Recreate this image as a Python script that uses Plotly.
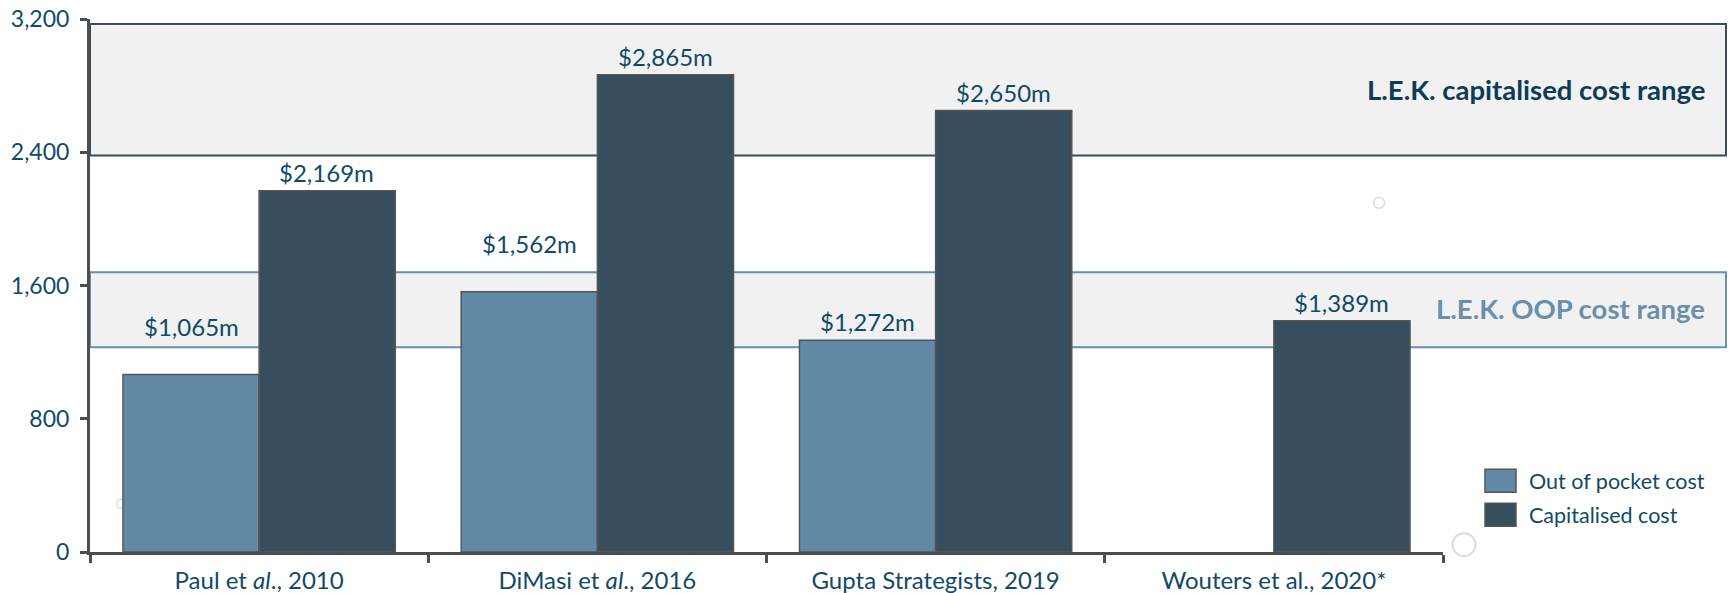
import plotly.graph_objects as go

# ---- data ----
categories = ["Paul et <i>al</i>., 2010", "DiMasi et <i>al</i>., 2016",
              "Gupta Strategists, 2019", "Wouters et al., 2020*"]
oop_cost = [1065, 1562, 1272, None]
cap_cost = [2169, 2865, 2650, 1389]
series_names = ["Out of pocket cost", "Capitalised cost"]
y_ticks = [0, 800, 1600, 2400, 3200]
cap_range = [2380, 3170]
oop_range = [1230, 1680]
band_labels = ["L.E.K. capitalised cost range", "L.E.K. OOP cost range"]

# ---- style ----
W, H = 1729, 593
# plot area in page pixels
L, R, T, B = 90, 1443, 18.5, 552.3
FONT = "Lato"
TXT = "#0f4a68"
C_OOP = "#628aa6"
C_CAP = "#374e5e"
EDGE = "#555555"
AX = "#4d4d4d"
Y_MAX = y_ticks[-1]


def px_x(x):
    return (x - L) / (R - L)


def px_y(y):
    return (B - y) / (B - T)


fig = go.Figure()
for name, vals, col in [(series_names[0], oop_cost, C_OOP), (series_names[1], cap_cost, C_CAP)]:
    fig.add_trace(go.Bar(
        x=categories, y=vals, name=name,
        marker=dict(color=col, line=dict(color=EDGE, width=1.5)),
        showlegend=False, hoverinfo="x+y",
    ))

# value labels
raised = {(0, 0), (0, 1)}
annotations = []
for s, vals in enumerate([oop_cost, cap_cost]):
    off = -0.2 if s == 0 else 0.2
    for i, v in enumerate(vals):
        if v is None:
            continue
        annotations.append(dict(
            x=i + off, y=v, xref="x", yref="y", text=f"${v:,}m",
            showarrow=False, yanchor="bottom", xanchor="center",
            yshift=32 if (s, i) in raised else 2,
            font=dict(family=FONT, size=24, color=TXT),
        ))

# bands
x_right = px_x(1726)
shapes = []
for rng, border in [(cap_range, C_CAP), (oop_range, "#6a8fab")]:
    shapes.append(dict(
        type="rect", xref="paper", yref="paper",
        x0=0, x1=x_right, y0=rng[0] / Y_MAX, y1=rng[1] / Y_MAX,
        fillcolor="#f1f1f1", line=dict(color=border, width=2), layer="below",
    ))

annotations.append(dict(
    x=px_x(1707), y=px_y(89), xref="paper", yref="paper", text=f"<b>{band_labels[0]}</b>",
    showarrow=False, xanchor="right", yanchor="middle",
    font=dict(family=FONT, size=27.5, color="#0d3c57"),
))
annotations.append(dict(
    x=px_x(1707), y=px_y(308), xref="paper", yref="paper", text=f"<b>{band_labels[1]}</b>",
    showarrow=False, xanchor="right", yanchor="middle",
    font=dict(family=FONT, size=27.5, color="#6a8fab"),
))

# manual legend
for k, (name, col) in enumerate([(series_names[0], C_OOP), (series_names[1], C_CAP)]):
    yc = 481 + 34 * k
    shapes.append(dict(
        type="rect", xref="paper", yref="paper",
        x0=px_x(1485), x1=px_x(1516), y0=px_y(yc + 11.5), y1=px_y(yc - 11.5),
        fillcolor=col, line=dict(color=EDGE, width=1.5),
    ))
    annotations.append(dict(
        x=px_x(1527), y=px_y(yc), xref="paper", yref="paper", text=name,
        showarrow=False, xanchor="left", yanchor="middle",
        font=dict(family=FONT, size=21.5, color=TXT),
    ))

# faint decorative circles
for cx, cy, r, w in [(121, 504, 4.5, 1.5), (1379, 202.5, 5.5, 1.5), (1464, 545, 11.5, 2)]:
    shapes.append(dict(
        type="circle", xref="paper", yref="paper", xsizemode="pixel", ysizemode="pixel",
        xanchor=px_x(cx), yanchor=px_y(cy), x0=-r, x1=r, y0=-r, y1=r,
        line=dict(color="#d3dde5", width=w), fillcolor="rgba(0,0,0,0)", layer="below",
    ))

fig.update_layout(
    width=W, height=H,
    margin=dict(l=L, r=W - R, t=T, b=H - B, pad=0, autoexpand=False),
    paper_bgcolor="white", plot_bgcolor="rgba(0,0,0,0)",
    barmode="group", bargap=0.195, bargroupgap=0,
    shapes=shapes, annotations=annotations,
    font=dict(family=FONT, color=TXT),
    xaxis=dict(
        type="category", showline=True, linecolor=AX, linewidth=3,
        ticks="outside", tickson="boundaries", ticklen=8, tickwidth=3, tickcolor=AX,
        tickfont=dict(family=FONT, size=24, color=TXT), ticklabelstandoff=5,
        ticklabeloverflow="allow", showgrid=False, zeroline=False,
    ),
    yaxis=dict(
        range=[0, Y_MAX], tickvals=y_ticks, tickformat=",",
        showline=True, linecolor=AX, linewidth=3,
        ticks="outside", ticklen=7, tickwidth=3, tickcolor=AX,
        tickfont=dict(family=FONT, size=23, color=TXT), ticklabelstandoff=6,
        ticklabeloverflow="allow", showgrid=False, zeroline=False,
    ),
)

fig.write_html(
    "out.html",
    config={"displayModeBar": False},
    post_script="document.body.style.margin='0';document.body.style.overflow='hidden';",
)
